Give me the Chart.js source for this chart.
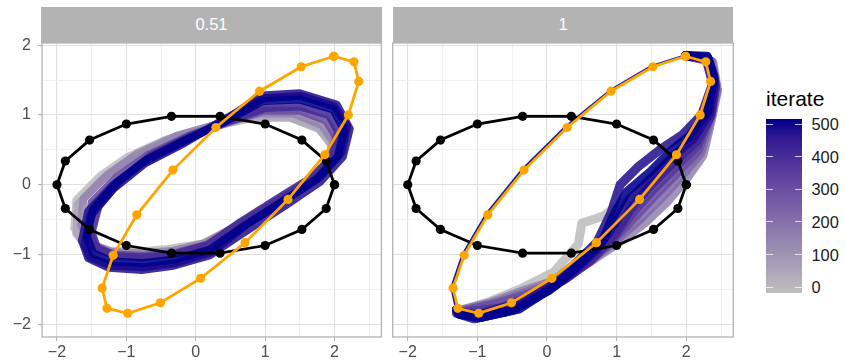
<!DOCTYPE html>
<html>
<head>
<meta charset="utf-8">
<script src="https://cdn.jsdelivr.net/npm/chart.js@4.4.1/dist/chart.umd.min.js"></script>
<style>
  body { margin: 0; background: #fff; font-family: 'Liberation Sans', Arial, sans-serif; }
  #wrap { position: relative; width: 845px; height: 362px; overflow: hidden; }
  canvas { position: absolute; top: 0; }
  .strip { position: absolute; top: 7.3px; height: 35.4px; background: #b3b3b3; color: #fff;
           font-size: 16.5px; line-height: 35.4px; text-align: center; }
  #legTitle { position: absolute; left: 766px; top: 88px; font-size: 21px; line-height: 21px; color: #000; }
  #legBar { position: absolute; left: 766px; top: 119px; width: 36px; height: 174px; }
  .legTick { position: absolute; height: 1px; width: 7px; background: rgba(255,255,255,0.75); }
  .legLab { position: absolute; left: 811.5px; font-size: 16.4px; line-height: 18px; color: #1a1a1a; }
</style>
</head>
<body>
<div id="wrap">
  <canvas id="p1" width="386" height="362" style="left:0px"></canvas>
  <canvas id="p2" width="354" height="362" style="left:386px"></canvas>
  <div class="strip" style="left:41px;width:341px">0.51</div>
  <div class="strip" style="left:392.7px;width:340.6px">1</div>
  <div id="legTitle">iterate</div>
  <div id="legBar"></div>
</div>
<script>
// facets, axes, legend
const facetLabels = ['0.51', '1'];
const majorTicks = [-2, -1, 0, 1, 2];
const xGrid = [-2, -1.5, -1, -0.5, 0, 0.5, 1, 1.5, 2, 2.5];
const yGrid = [-2, -1.5, -1, -0.5, 0, 0.5, 1, 1.5, 2];
const legendTicks = [0, 100, 200, 300, 400, 500];
const iterMax = 500;

// black starting ellipse (same in both panels)
const circle = [[2.00,0.00],[1.88,0.34],[1.53,0.64],[1.00,0.87],[0.35,0.98],[-0.35,0.98],[-1.00,0.87],[-1.53,0.64],[-1.88,0.34],
  [-2.00,0.00],[-1.88,-0.34],[-1.53,-0.64],[-1.00,-0.87],[-0.35,-0.98],[0.35,-0.98],[1.00,-0.87],[1.53,-0.64],[1.88,-0.34]];

// orange target ellipse (same in both panels)
const target = [[1.99,1.84],[2.28,1.76],[2.35,1.48],[2.20,1.00],[1.86,0.43],[1.33,-0.21],[0.71,-0.83],[0.07,-1.34],[-0.51,-1.69],
  [-0.98,-1.84],[-1.28,-1.77],[-1.35,-1.48],[-1.19,-1.01],[-0.85,-0.43],[-0.33,0.21],[0.29,0.82],[0.92,1.34],[1.52,1.69]];

// panel 0.51: iterate loops
const iters051 = [500, 480, 460, 400, 300, 150, 60, 0];
const p051_500 = [[-1.57,-0.74],[-1.48,-0.35],[-1.14,0.03],[-0.71,0.36],[-0.13,0.65],[0.39,0.89],[0.97,1.20],[1.50,1.22],[1.98,1.08],
  [2.14,0.79],[2.05,0.41],[1.74,0.08],[1.30,-0.21],[0.68,-0.60],[0.20,-0.93],[-0.30,-1.07],[-0.76,-1.12],[-1.20,-1.10],[-1.48,-0.98]];
const p051_480 = [[-1.60,-0.86],[-1.52,-0.45],[-1.18,-0.05],[-0.74,0.30],[-0.16,0.60],[0.38,0.92],[0.98,1.24],[1.52,1.27],[2.00,1.12],
  [2.18,0.84],[2.10,0.46],[1.78,0.10],[1.34,-0.18],[0.72,-0.58],[0.24,-0.96],[-0.28,-1.12],[-0.74,-1.18],[-1.22,-1.16],[-1.52,-1.04]];
const p051_460 = [[-1.64,-0.80],[-1.55,-0.38],[-1.20,-0.01],[-0.76,0.32],[-0.17,0.62],[0.36,0.88],[0.95,1.28],[1.50,1.31],[2.03,1.15],
  [2.22,0.80],[2.12,0.40],[1.79,0.04],[1.33,-0.27],[0.70,-0.68],[0.20,-1.01],[-0.32,-1.16],[-0.78,-1.22],[-1.25,-1.19],[-1.55,-1.05]];
const p051_400 = [[-1.50,-0.68],[-1.40,-0.30],[-1.07,0.08],[-0.64,0.42],[-0.07,0.70],[0.44,0.90],[1.00,1.10],[1.50,1.12],[1.92,1.00],
  [2.05,0.76],[1.97,0.40],[1.68,0.11],[1.26,-0.15],[0.65,-0.53],[0.18,-0.86],[-0.28,-0.99],[-0.74,-1.04],[-1.15,-1.02],[-1.42,-0.91]];
const p051_300 = [[-1.55,-0.62],[-1.50,-0.25],[-1.15,0.10],[-0.70,0.42],[-0.10,0.70],[0.42,0.88],[0.98,1.06],[1.50,1.06],[1.88,0.92],
  [2.02,0.68],[1.95,0.38],[1.66,0.08],[1.24,-0.18],[0.64,-0.55],[0.16,-0.86],[-0.30,-0.98],[-0.76,-1.02],[-1.18,-1.00],[-1.46,-0.88]];
const p051_150 = [[-1.65,-0.58],[-1.62,-0.20],[-1.28,0.14],[-0.85,0.44],[-0.28,0.70],[0.30,0.86],[0.90,1.02],[1.42,1.02],[1.82,0.85],
  [1.98,0.62],[1.94,0.36],[1.66,0.06],[1.24,-0.21],[0.64,-0.56],[0.12,-0.84],[-0.35,-0.95],[-0.80,-0.98],[-1.22,-0.96],[-1.52,-0.84]];
const p051_60 = [[-1.72,-0.70],[-1.70,-0.28],[-1.36,0.06],[-0.94,0.36],[-0.40,0.62],[0.20,0.82],[0.82,0.96],[1.36,0.96],[1.78,0.80],
  [1.96,0.56],[1.94,0.32],[1.66,0.02],[1.24,-0.26],[0.64,-0.60],[0.12,-0.88],[-0.38,-0.96],[-0.82,-1.00],[-1.22,-0.98],[-1.56,-0.90]];
const p051_0 = [[-1.75,-0.62],[-1.72,-0.22],[-1.38,0.12],[-0.98,0.40],[-0.45,0.64],[0.15,0.82],[0.78,0.98],[1.32,0.98],[1.74,0.84],
  [1.95,0.60],[1.96,0.34],[1.68,0.04],[1.25,-0.24],[0.65,-0.58],[0.10,-0.84],[-0.40,-0.92],[-0.85,-0.96],[-1.25,-0.94],[-1.60,-0.84]];
const loops051 = [p051_500, p051_480, p051_460, p051_400, p051_300, p051_150, p051_60, p051_0];

// panel 1: shared upper arc, then lower arcs per iterate
const upper1 = [[-1.30,-1.79],[-1.37,-1.47],[-1.21,-1.00],[-0.87,-0.42],[-0.35,0.22],[0.27,0.83],[0.91,1.35],[1.51,1.70],[1.99,1.85]];
const iters1 = [500, 480, 460, 420, 360, 300, 220, 150, 0];
const low1_500 = [[2.30,1.84],[2.40,1.55],[2.30,1.05],[2.05,0.70],[1.80,0.50],[1.50,0.20],[1.15,-0.10],[0.95,-0.45],[0.80,-0.80],
  [0.45,-1.15],[0.15,-1.42],[-0.40,-1.78],[-0.95,-1.90],[-1.25,-1.86]];
const low1_480 = [[2.31,1.82],[2.41,1.48],[2.33,1.02],[2.10,0.66],[1.80,0.40],[1.48,0.08],[1.18,-0.22],[0.96,-0.58],[0.72,-0.92],
  [0.38,-1.24],[0.02,-1.52],[-0.50,-1.80],[-1.00,-1.91],[-1.27,-1.85]];
const low1_460 = [[2.28,1.82],[2.38,1.45],[2.22,1.00],[1.95,0.72],[1.62,0.50],[1.30,0.25],[1.05,0.00],[0.92,-0.40],[0.72,-0.82],
  [0.35,-1.18],[0.00,-1.45],[-0.50,-1.72],[-1.00,-1.86],[-1.28,-1.82]];
const low1_420 = [[2.32,1.80],[2.42,1.42],[2.36,1.00],[2.15,0.62],[1.80,0.30],[1.45,-0.05],[1.20,-0.35],[0.98,-0.70],[0.65,-1.05],
  [0.30,-1.32],[-0.15,-1.60],[-0.60,-1.82],[-1.05,-1.92],[-1.30,-1.84]];
const low1_360 = [[2.32,1.79],[2.42,1.40],[2.34,0.96],[2.16,0.56],[1.85,0.25],[1.52,-0.08],[1.25,-0.38],[0.98,-0.73],[0.63,-1.08],
  [0.26,-1.35],[-0.20,-1.58],[-0.66,-1.76],[-1.25,-1.83]];
const low1_300 = [[2.33,1.78],[2.42,1.38],[2.32,0.92],[2.18,0.50],[1.90,0.20],[1.58,-0.12],[1.30,-0.42],[0.98,-0.76],[0.62,-1.10],
  [0.22,-1.38],[-0.25,-1.56],[-0.72,-1.70],[-1.25,-1.82]];
const low1_220 = [[2.36,1.77],[2.44,1.36],[2.34,0.90],[2.21,0.46],[1.95,0.14],[1.65,-0.18],[1.35,-0.48],[0.99,-0.80],[0.58,-1.12],
  [0.16,-1.38],[-0.30,-1.54],[-0.78,-1.70],[-1.25,-1.81]];
const low1_150 = [[2.38,1.76],[2.45,1.35],[2.35,0.88],[2.24,0.42],[2.00,0.08],[1.72,-0.25],[1.40,-0.55],[1.00,-0.85],[0.55,-1.15],
  [0.10,-1.38],[-0.35,-1.52],[-0.85,-1.70],[-1.25,-1.80]];
const low1_0 = [[2.32,1.80],[2.42,1.42],[2.30,0.98],[2.08,0.60],[1.70,0.20],[1.25,-0.15],[0.80,-0.45],[0.50,-0.55],[0.45,-0.85],
  [0.10,-1.25],[-0.40,-1.50],[-0.85,-1.68],[-1.25,-1.80]];
const lows1 = [low1_500, low1_480, low1_460, low1_420, low1_360, low1_300, low1_220, low1_150, low1_0];

// colour scale: grey -> darkblue, interpolated in Lab like ggplot
const lowHex = '#bebebe', highHex = '#00008b';
function toLin(c) { c /= 255; return c <= 0.04045 ? c / 12.92 : Math.pow((c + 0.055) / 1.055, 2.4); }
function toSrgb(c) { c = c <= 0.0031308 ? 12.92 * c : 1.055 * Math.pow(c, 1 / 2.4) - 0.055; return Math.round(Math.min(1, Math.max(0, c)) * 255); }
function fLab(t) { return t > 0.008856 ? Math.cbrt(t) : 7.787 * t + 16 / 116; }
function fInv(t) { return t > 0.206893 ? t * t * t : (t - 16 / 116) / 7.787; }
function hexToLab(hex) {
  const r = toLin(parseInt(hex.substr(1, 2), 16)), g = toLin(parseInt(hex.substr(3, 2), 16)), b = toLin(parseInt(hex.substr(5, 2), 16));
  const X = (0.4124 * r + 0.3576 * g + 0.1805 * b) / 0.95047;
  const Y = 0.2126 * r + 0.7152 * g + 0.0722 * b;
  const Z = (0.0193 * r + 0.1192 * g + 0.9505 * b) / 1.08883;
  const fx = fLab(X), fy = fLab(Y), fz = fLab(Z);
  return [116 * fy - 16, 500 * (fx - fy), 200 * (fy - fz)];
}
function labToRgb(L, a, b) {
  const fy = (L + 16) / 116, fx = fy + a / 500, fz = fy - b / 200;
  const X = fInv(fx) * 0.95047, Y = fInv(fy), Z = fInv(fz) * 1.08883;
  const r = 3.2406 * X - 1.5372 * Y - 0.4986 * Z;
  const g = -0.9689 * X + 1.8758 * Y + 0.0415 * Z;
  const bl = 0.0557 * X - 0.2040 * Y + 1.0570 * Z;
  return [toSrgb(r), toSrgb(g), toSrgb(bl)];
}
const labLow = hexToLab(lowHex), labHigh = hexToLab(highHex);
function iterColour(it, alpha) {
  const t = it / iterMax;
  const c = labToRgb(labLow[0] + t * (labHigh[0] - labLow[0]), labLow[1] + t * (labHigh[1] - labLow[1]), labLow[2] + t * (labHigh[2] - labLow[2]));
  return 'rgba(' + c[0] + ',' + c[1] + ',' + c[2] + ',' + alpha + ')';
}

function toXY(pairs) { return pairs.map(p => ({ x: p[0], y: p[1] })); }
function closed(pairs) { return toXY(pairs.concat([pairs[0]])); }
function fmt(v) { return v < 0 ? '\u2212' + Math.abs(v) : String(v); }

const FONT = 'Liberation Sans';

function guideDatasets() {
  return [
    { data: closed(target), showLine: true, borderColor: '#ffa500', backgroundColor: '#ffa500', borderWidth: 2.8,
      pointRadius: 4.6, pointBorderWidth: 0, pointHoverRadius: 4.6 },
    { data: closed(circle), showLine: true, borderColor: '#000', backgroundColor: '#000', borderWidth: 2.8,
      pointRadius: 4.6, pointBorderWidth: 0, pointHoverRadius: 4.6 }
  ];
}
function iterDataset(points, it, width) {
  return { data: points, showLine: true, borderColor: iterColour(it, 0.88), borderWidth: width,
    borderJoinStyle: 'round', borderCapStyle: 'round', pointRadius: 0, pointHoverRadius: 0 };
}

const panelBorder = {
  id: 'panelBorder',
  afterDraw(chart) {
    const a = chart.chartArea, ctx = chart.ctx;
    ctx.save();
    ctx.strokeStyle = '#b3b3b3';
    ctx.lineWidth = 1.3;
    ctx.strokeRect(a.left, a.top, a.right - a.left, a.bottom - a.top);
    ctx.restore();
  }
};

function makePanel(id, datasets, showY, pad) {
  return new Chart(document.getElementById(id), {
    type: 'scatter',
    data: { datasets: datasets },
    options: {
      responsive: false,
      animation: false,
      events: [],
      layout: { padding: pad },
      plugins: { legend: { display: false }, tooltip: { enabled: false } },
      scales: {
        x: {
          type: 'linear', min: -2.216, max: 2.676,
          afterBuildTicks: s => { s.ticks = xGrid.map(v => ({ value: v })); },
          afterFit: s => { s.height = 25; },
          border: { display: false },
          grid: {
            color: c => majorTicks.includes(c.tick.value) ? '#e0e0e0' : '#ededed',
            lineWidth: c => majorTicks.includes(c.tick.value) ? 1.1 : 0.8,
            tickLength: 4, tickWidth: 1.1,
            tickColor: c => majorTicks.includes(c.tick.value) ? '#b3b3b3' : 'rgba(0,0,0,0)'
          },
          ticks: {
            autoSkip: false, maxRotation: 0, padding: 2, color: '#4d4d4d',
            font: { family: FONT, size: 16 },
            callback: v => majorTicks.includes(v) ? fmt(v) : ''
          }
        },
        y: {
          type: 'linear', min: -2.18, max: 2.03,
          afterBuildTicks: s => { s.ticks = yGrid.map(v => ({ value: v })); },
          afterFit: s => { s.width = showY ? 42 : 0; },
          border: { display: false },
          grid: {
            color: c => majorTicks.includes(c.tick.value) ? '#e0e0e0' : '#ededed',
            lineWidth: c => majorTicks.includes(c.tick.value) ? 1.1 : 0.8,
            drawTicks: showY, tickLength: 4, tickWidth: 1.1,
            tickColor: c => majorTicks.includes(c.tick.value) ? '#b3b3b3' : 'rgba(0,0,0,0)'
          },
          ticks: {
            display: showY, autoSkip: false, padding: 7, color: '#4d4d4d',
            font: { family: FONT, size: 16 },
            callback: v => majorTicks.includes(v) ? fmt(v) : ''
          }
        }
      }
    },
    plugins: [panelBorder]
  });
}

// panel 0.51
const ds051 = guideDatasets();
loops051.forEach((loop, i) => ds051.push(iterDataset(closed(loop), iters051[i], 8)));
makePanel('p1', ds051, true, { top: 43, right: 4, left: 0, bottom: 0 });

// panel 1
const ds1 = guideDatasets();
ds1.push(iterDataset(toXY(upper1), iters1[0], 2.8));
lows1.forEach((low, i) => {
  const pts = [upper1[upper1.length - 1]].concat(low).concat([upper1[0]]);
  ds1.push(iterDataset(toXY(pts), iters1[i], 9));
});
makePanel('p2', ds1, false, { top: 43, right: 6.7, left: 6.7, bottom: 0 });

// colourbar legend
const bar = document.getElementById('legBar');
const stops = [];
for (let k = 0; k <= 10; k++) stops.push(iterColour(k * iterMax / 10, 1) + ' ' + (k * 10) + '%');
bar.style.background = 'linear-gradient(to top, ' + stops.join(', ') + ')';
const wrap = document.getElementById('wrap');
legendTicks.forEach(v => {
  const y = 287.3 - v / 100 * 32.66;
  [766, 795].forEach(x => {
    const t = document.createElement('div');
    t.className = 'legTick';
    t.style.left = x + 'px';
    t.style.top = (y - 0.5) + 'px';
    wrap.appendChild(t);
  });
  const lab = document.createElement('div');
  lab.className = 'legLab';
  lab.style.top = (y - 9) + 'px';
  lab.textContent = v;
  wrap.appendChild(lab);
});
</script>
</body>
</html>
